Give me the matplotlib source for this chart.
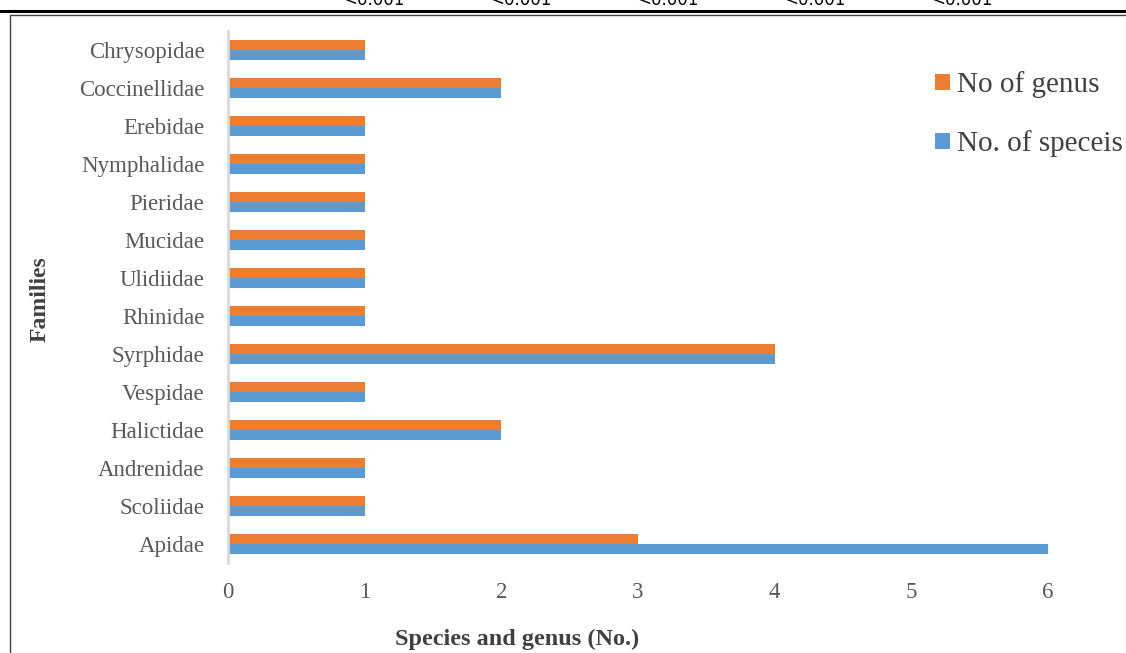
import matplotlib
matplotlib.use("Agg")
import matplotlib.pyplot as plt
import numpy as np
from matplotlib.lines import Line2D
from matplotlib.patches import Rectangle

families = ["Apidae", "Scoliidae", "Andrenidae", "Halictidae", "Vespidae",
            "Syrphidae", "Rhinidae", "Ulidiidae", "Mucidae", "Pieridae",
            "Nymphalidae", "Erebidae", "Coccinellidae", "Chrysopidae"]
species = [6, 1, 1, 2, 1, 4, 1, 1, 1, 1, 1, 1, 2, 1]
genus = [3, 1, 1, 2, 1, 4, 1, 1, 1, 1, 1, 1, 2, 1]
xticks = [0, 1, 2, 3, 4, 5, 6]
top_texts = ["<0.001"] * 5

plt.rcParams['font.family'] = ['Liberation Serif', 'DejaVu Serif']

W, H = 1126, 653
fig = plt.figure(figsize=(W / 100, H / 100), dpi=100)

# frame and header line
fig.add_artist(Line2D([0, 1], [1 - 10.5 / H, 1 - 10.5 / H], color="black", lw=2.2,
                      transform=fig.transFigure))
fig.add_artist(Rectangle((9.5 / W, -0.05), 1.2, 1 - 14.5 / H + 0.05, fill=False,
                         edgecolor="#404040", lw=1.0, transform=fig.transFigure))
for i, t in enumerate(top_texts):
    fig.text((343 + i * 147) / W, 1 - 5 / H, t, fontsize=12, color="black",
             ha="left", va="baseline", family=['DejaVu Sans'])

ax = fig.add_axes([228 / W, 1 - 563 / H, 820 / W, 532 / H])
y = np.arange(len(families))
h = 0.26
ax.barh(y - h / 2, species, height=h, color="#5B9BD5", label="No. of speceis")
ax.barh(y + h / 2, genus, height=h, color="#ED7D31", label="No of genus")

ax.set_xlim(0, 6)
ax.set_ylim(-0.5, len(families) - 0.5)
ax.set_yticks(y)
ax.set_yticklabels(families, fontsize=16.5, color="#595959")
ax.set_xticks(xticks)
ax.set_xticklabels([str(v) for v in xticks], fontsize=16.5, color="#595959")
ax.tick_params(axis="both", length=0)
ax.tick_params(axis="x", pad=14)
ax.tick_params(axis="y", pad=17)
for s in ["top", "right", "bottom"]:
    ax.spines[s].set_visible(False)
ax.spines["left"].set_color("#D9D9D9")
ax.spines["left"].set_linewidth(2)

fig.text(517 / W, 1 - 639 / H, "Species and genus (No.)", fontsize=17.5, fontweight="bold",
         color="#404040", ha="center", va="center")
fig.text(40 / W, 1 - 299 / H, "Families", fontsize=17, fontweight="bold",
         color="#404040", ha="center", va="center", rotation=90)

handles, labels = ax.get_legend_handles_labels()
leg = fig.legend(handles[::-1], labels[::-1], loc="upper left",
                 bbox_to_anchor=(909 / W, 1 - 45 / H), frameon=False,
                 fontsize=21, handlelength=0.5, handleheight=0.5,
                 handletextpad=0.25, labelspacing=1.1, labelcolor="#404040")

fig.savefig("out.png", dpi=100)
